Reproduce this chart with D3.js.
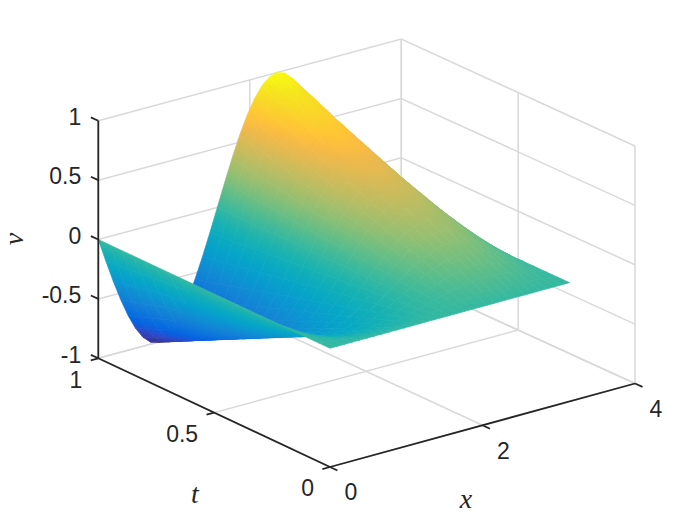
<!DOCTYPE html>
<html>
<head>
<meta charset="utf-8">
<script src="https://cdn.jsdelivr.net/npm/d3@7"></script>
<style>
html, body { margin: 0; padding: 0; background: #fff; }
svg { display: block; }
text { font-family: "Liberation Sans", Arial, sans-serif; fill: #262626; }
.axlabel { font-family: "Liberation Serif", serif; font-style: italic; }
</style>
</head>
<body>
<svg id="chart" width="700" height="525"></svg>
<script>
// x samples, read as 32 equal steps over 0..3.14
const xValues = [0, 0.098, 0.196, 0.295, 0.393, 0.491, 0.589, 0.687, 0.785, 0.884, 0.982, 1.08, 1.178, 1.276, 1.374, 1.473, 1.571,
    1.669, 1.767, 1.865, 1.963, 2.062, 2.16, 2.258, 2.356, 2.454, 2.553, 2.651, 2.749, 2.847, 2.945, 3.043, 3.142];
const tValues = [0, 0.05, 0.1, 0.15, 0.2, 0.25, 0.3, 0.35, 0.4, 0.45, 0.5, 0.55, 0.6, 0.65, 0.7, 0.75, 0.8, 0.85, 0.9, 0.95, 1];
// v, one row per t
const vValues = [
    [0,0,0,0,0,0,0,0,0,0,0,0,0,0,0,0,0,0,0,0,0,0,0,0,0,0,0,0,0,0,0,0,0],
    [0,-.010,-.019,-.028,-.035,-.042,-.046,-.049,-.050,-.049,-.046,-.042,-.035,-.028,-.019,-.010,0,.010,.019,.028,.035,.042,.046,.049,.050,.049,.046,.042,.035,.028,.019,.010,0],
    [0,-.020,-.038,-.056,-.071,-.083,-.092,-.098,-.100,-.098,-.092,-.083,-.071,-.056,-.038,-.020,0,.020,.038,.056,.071,.083,.092,.098,.100,.098,.092,.083,.071,.056,.038,.020,0],
    [0,-.029,-.057,-.083,-.106,-.125,-.139,-.147,-.150,-.147,-.139,-.125,-.106,-.083,-.057,-.029,0,.029,.057,.083,.106,.125,.139,.147,.150,.147,.139,.125,.106,.083,.057,.029,0],
    [0,-.039,-.077,-.111,-.141,-.166,-.185,-.196,-.200,-.196,-.185,-.166,-.141,-.111,-.077,-.039,0,.039,.077,.111,.141,.166,.185,.196,.200,.196,.185,.166,.141,.111,.077,.039,0],
    [0,-.049,-.096,-.139,-.177,-.208,-.231,-.245,-.250,-.245,-.231,-.208,-.177,-.139,-.096,-.049,0,.049,.096,.139,.177,.208,.231,.245,.250,.245,.231,.208,.177,.139,.096,.049,0],
    [0,-.059,-.115,-.167,-.212,-.249,-.277,-.294,-.300,-.294,-.277,-.249,-.212,-.167,-.115,-.059,0,.059,.115,.167,.212,.249,.277,.294,.300,.294,.277,.249,.212,.167,.115,.059,0],
    [0,-.068,-.134,-.195,-.247,-.291,-.323,-.343,-.350,-.343,-.323,-.291,-.247,-.195,-.134,-.068,0,.068,.134,.195,.247,.291,.323,.343,.350,.343,.323,.291,.247,.195,.134,.068,0],
    [0,-.078,-.153,-.222,-.283,-.332,-.370,-.392,-.400,-.392,-.370,-.332,-.283,-.222,-.153,-.078,0,.078,.153,.222,.283,.332,.370,.392,.400,.392,.370,.332,.283,.222,.153,.078,0],
    [0,-.088,-.172,-.250,-.318,-.374,-.416,-.441,-.450,-.441,-.416,-.374,-.318,-.250,-.172,-.088,0,.088,.172,.250,.318,.374,.416,.441,.450,.441,.416,.374,.318,.250,.172,.088,0],
    [0,-.098,-.191,-.278,-.354,-.416,-.462,-.490,-.500,-.490,-.462,-.416,-.354,-.278,-.191,-.098,0,.098,.191,.278,.354,.416,.462,.490,.500,.490,.462,.416,.354,.278,.191,.098,0],
    [0,-.107,-.211,-.306,-.389,-.457,-.508,-.540,-.550,-.540,-.508,-.457,-.389,-.306,-.211,-.107,0,.107,.211,.306,.389,.457,.508,.540,.550,.540,.508,.457,.389,.306,.211,.107,0],
    [0,-.117,-.230,-.333,-.424,-.499,-.554,-.589,-.600,-.589,-.554,-.499,-.424,-.333,-.230,-.117,0,.117,.230,.333,.424,.499,.554,.589,.600,.589,.554,.499,.424,.333,.230,.117,0],
    [0,-.127,-.249,-.361,-.460,-.540,-.601,-.638,-.650,-.638,-.601,-.540,-.460,-.361,-.249,-.127,0,.127,.249,.361,.460,.540,.601,.638,.650,.638,.601,.540,.460,.361,.249,.127,0],
    [0,-.137,-.268,-.389,-.495,-.582,-.647,-.687,-.700,-.687,-.647,-.582,-.495,-.389,-.268,-.137,0,.137,.268,.389,.495,.582,.647,.687,.700,.687,.647,.582,.495,.389,.268,.137,0],
    [0,-.146,-.287,-.417,-.530,-.623,-.693,-.736,-.750,-.736,-.693,-.623,-.530,-.417,-.287,-.146,0,.146,.287,.417,.530,.623,.693,.736,.750,.736,.693,.623,.530,.417,.287,.146,0],
    [0,-.156,-.306,-.444,-.566,-.665,-.739,-.785,-.800,-.785,-.739,-.665,-.566,-.444,-.306,-.156,0,.156,.306,.444,.566,.665,.739,.785,.800,.785,.739,.665,.566,.444,.306,.156,0],
    [0,-.166,-.326,-.473,-.601,-.706,-.785,-.834,-.850,-.834,-.785,-.706,-.601,-.473,-.326,-.166,0,.166,.326,.473,.601,.706,.785,.834,.850,.834,.785,.706,.601,.473,.326,.166,0],
    [0,-.176,-.345,-.500,-.636,-.748,-.832,-.883,-.900,-.883,-.832,-.748,-.636,-.500,-.345,-.176,0,.176,.345,.500,.636,.748,.832,.883,.900,.883,.832,.748,.636,.500,.345,.176,0],
    [0,-.185,-.364,-.528,-.672,-.789,-.878,-.932,-.950,-.932,-.878,-.789,-.672,-.528,-.364,-.185,0,.185,.364,.528,.672,.789,.878,.932,.950,.932,.878,.789,.672,.528,.364,.185,0],
    [0,-.195,-.383,-.556,-.707,-.831,-.924,-.981,-1,-.981,-.924,-.831,-.707,-.556,-.383,-.195,0,.195,.383,.556,.707,.831,.924,.981,1,.981,.924,.831,.707,.556,.383,.195,0]
];
const xTicks = [0, 2, 4];
const tTicks = [0, 0.5, 1];
const vTicks = [-1, -0.5, 0, 0.5, 1];
const vTickLabels = ["-1", "-0.5", "0", "0.5", "1"];
const tTickLabels = ["0", "0.5", "1"];
const xTickLabels = ["0", "2", "4"];

// parula (older 64 colour map), selected rows
const parulaPos = [0, 4, 6, 8, 12, 16, 20, 24, 28, 32, 36, 40, 44, 48, 51, 53, 54, 56, 60, 63];
const parula = [[.2081,.1663,.5292],[.1959,.2645,.7279],[.1253,.3242,.8303],[.0117,.3875,.882],[.0498,.4586,.8641],
    [.0793,.52,.8312],[.0343,.5966,.8199],[.0228,.6535,.7768],[.0843,.6928,.7062],[.2178,.725,.6193],[.3953,.7459,.5244],
    [.5709,.7485,.4494],[.7184,.7411,.3905],[.8507,.7299,.336],[.945,.7261,.2886],[.9938,.7455,.2403],[.999,.7653,.2164],
    [.988,.8066,.1794],[.9589,.8949,.1132],[.9763,.9831,.0538]];

const svg = d3.select("#chart");
const defs = svg.append("defs");

const color = d3.scaleLinear()
    .domain(parulaPos.map(i => -1 + 2 * i / 63))
    .range(parula.map(c => d3.rgb(c[0] * 255, c[1] * 255, c[2] * 255).formatHex()))
    .clamp(true);

// the three box edges in screen space, starting from the front corner
const xScale = d3.scaleLinear().domain([0, 4]).range([0, 1]);
const tScale = d3.scaleLinear().domain([0, 1]).range([0, 1]);
const vScale = d3.scaleLinear().domain([-1, 1]).range([0, 1]);
const origin = [330, 467];
const xEdge = [305, -83.5];
const tEdge = [-231.7, -108.7];
const vEdge = [0, -237.5];
const backPull = [-2, 1.8]; // back corner sits a little in from the parallelogram

function project(x, t, v) {
    const a = xScale(x), b = tScale(t), c = vScale(v);
    return [origin[0] + a * xEdge[0] + b * tEdge[0] + c * vEdge[0] + a * b * backPull[0],
            origin[1] + a * xEdge[1] + b * tEdge[1] + c * vEdge[1] + a * b * backPull[1]];
}

const line = d3.line();

// box and grid
const grid = svg.append("g").attr("fill", "none").attr("stroke", "#d9d9d9").attr("stroke-width", 1.5);
vTicks.forEach(v => {
    grid.append("path").attr("d", line([project(0, 1, v), project(4, 1, v), project(4, 0, v)]));
});
xTicks.forEach(x => {
    grid.append("path").attr("d", line([project(x, 1, -1), project(x, 1, 1)]));
    grid.append("path").attr("d", line([project(x, 0, -1), project(x, 1, -1)]));
});
tTicks.forEach(t => {
    grid.append("path").attr("d", line([project(4, t, -1), project(4, t, 1)]));
    grid.append("path").attr("d", line([project(0, t, -1), project(4, t, -1)]));
});

// cells, back to front
const cells = [];
for (let j = tValues.length - 2; j >= 0; j--) {
    for (let i = xValues.length - 2; i >= 0; i--) {
        const corners = [[i, j], [i + 1, j], [i + 1, j + 1], [i, j + 1]];
        cells.push({
            id: "c" + i + "_" + j,
            pts: corners.map(c => project(xValues[c[0]], tValues[c[1]], vValues[c[1]][c[0]])),
            vs: corners.map(c => vValues[c[1]][c[0]])
        });
    }
}

function cellPaint(d) {
    const p = d.pts, z = d.vs;
    const d1 = [p[2][0] - p[0][0], p[2][1] - p[0][1]], dz1 = z[2] - z[0];
    const d2 = [p[3][0] - p[1][0], p[3][1] - p[1][1]], dz2 = z[3] - z[1];
    const det = d1[0] * d2[1] - d1[1] * d2[0];
    const zMin = d3.min(z), zMax = d3.max(z), zMid = d3.mean(z);
    if (Math.abs(det) < 1e-6 || zMax - zMin < 1e-4) return color(zMid);
    const gx = (dz1 * d2[1] - dz2 * d1[1]) / det;
    const gy = (d1[0] * dz2 - d2[0] * dz1) / det;
    const g2 = gx * gx + gy * gy;
    const cx = d3.mean(p, q => q[0]), cy = d3.mean(p, q => q[1]);
    const grad = defs.append("linearGradient").attr("id", d.id).attr("gradientUnits", "userSpaceOnUse")
        .attr("x1", cx + gx * (zMin - zMid) / g2).attr("y1", cy + gy * (zMin - zMid) / g2)
        .attr("x2", cx + gx * (zMax - zMid) / g2).attr("y2", cy + gy * (zMax - zMid) / g2);
    [0, 0.5, 1].forEach(f => {
        grad.append("stop").attr("offset", f).attr("stop-color", color(zMin + f * (zMax - zMin)));
    });
    return "url(#" + d.id + ")";
}

svg.append("g").selectAll("path")
    .data(cells)
    .join("path")
    .attr("d", d => line(d.pts) + "Z")
    .each(function (d) {
        const paint = cellPaint(d);
        d3.select(this).attr("fill", paint).attr("stroke", paint).attr("stroke-width", 0.7).attr("stroke-linejoin", "round");
    });

// axis lines and ticks
const axes = svg.append("g").attr("fill", "none").attr("stroke", "#262626").attr("stroke-width", 1.8);
axes.append("path").attr("d", line([project(0, 1, -1), project(0, 1, 1)]));
axes.append("path").attr("d", line([project(0, 1, -1), project(0, 0, -1)]));
axes.append("path").attr("d", line([project(0, 0, -1), project(4, 0, -1)]));
vTicks.forEach(v => {
    axes.append("path").attr("d", line([project(0, 1, v), project(0, 1.032, v)]));
});
tTicks.forEach(t => {
    axes.append("path").attr("d", line([project(0, t, -1), project(-0.1, t, -1)]));
});
xTicks.forEach(x => {
    axes.append("path").attr("d", line([project(x, 0, -1), project(x, -0.032, -1)]));
});

// tick labels
const fontSize = 23;
function label(x, y, s, anchor) {
    svg.append("text").attr("x", x).attr("y", y).attr("dy", "0.36em")
        .attr("text-anchor", anchor).attr("font-size", fontSize).text(s);
}
vTicks.forEach((v, i) => {
    const p = project(0, 1, v);
    label(p[0] - 17, p[1] - 4, vTickLabels[i], "end");
});
tTicks.forEach((t, i) => {
    const p = project(0, t, -1);
    label(p[0] - 16, p[1] + 21, tTickLabels[i], "end");
});
xTicks.forEach((x, i) => {
    const p = project(x, 0, -1);
    label(p[0] + 21, p[1] + 25, xTickLabels[i], "middle");
});

// axis labels
svg.append("text").attr("class", "axlabel").attr("x", 195).attr("y", 495).attr("dy", "0.3em")
    .attr("text-anchor", "middle").attr("font-size", 28).text("t");
svg.append("text").attr("class", "axlabel").attr("x", 466).attr("y", 502).attr("dy", "0.2em")
    .attr("text-anchor", "middle").attr("font-size", 28).text("x");
svg.append("text").attr("class", "axlabel").attr("transform", "translate(17,239) rotate(-90)").attr("dy", "0.2em")
    .attr("text-anchor", "middle").attr("font-size", 28).text("v");
</script>
</body>
</html>
